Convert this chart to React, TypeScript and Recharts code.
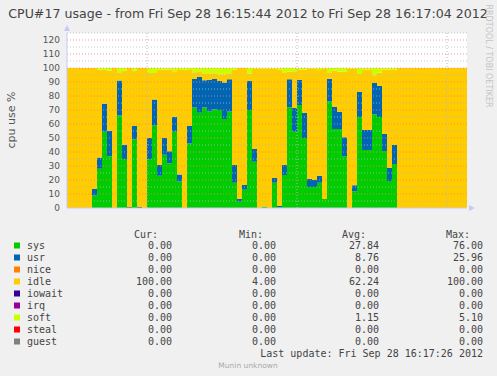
import { ComposedChart, Area, XAxis, YAxis, CartesianGrid, ReferenceLine } from "recharts";

// one sample per second, 16:15:44 .. 16:17:04
const SYS = [
  0, 0, 0, 0, 0, 9, 28, 54.5, 37, 0, 66, 35, 0, 49, 0, 0, 35, 59, 23, 38,
  32, 54.5, 19, 0, 46, 71.7, 68, 72, 69, 70.5, 70, 63.6, 69, 18, 4.5, 13, 70, 33, 0, 1,
  0, 18, 0.7, 23.6, 72, 54.5, 73.6, 50, 15, 15, 18, 6.4, 76, 56.4, 56.4, 37, 0, 12, 65, 41.4,
  41.4, 67, 65, 40.7, 19.3, 31.4, 0, 0, 0, 0, 0, 0, 0, 0, 0, 0, 0, 0, 0, 0, 0,
];
const USR = [
  0, 0, 0, 0, 0, 4.5, 8, 20, 18, 0, 25, 10, 0.8, 9.5, 0.8, 0, 15, 18.5, 7.7, 12,
  8.6, 10.7, 5, 0, 12.6, 20.4, 25.6, 19.3, 22.6, 21.6, 20.7, 26, 23, 12.8, 2, 3.4, 20.7, 9.2, 0, 0,
  0, 3.5, 0.7, 7.1, 20, 17, 17.8, 17.9, 5.7, 5, 5, 0, 16.4, 15.7, 12.2, 13.6, 0, 4.3, 17.9, 14.3,
  14.3, 22.2, 22.1, 12.2, 9.3, 13.6, 0, 0, 0, 0, 0, 0, 0, 0, 0, 0, 0, 0, 0, 0, 0,
];
const IDLE = [
  100, 100, 100, 100, 100, 86.5, 62.8, 24.3, 43, 100, 6, 53, 99.2, 39.5, 99.2, 100, 46.5, 19, 68.1, 48.8,
  58.4, 32.4, 74.5, 99, 39.9, 4.9, 4, 4.9, 4.6, 4.1, 4.8, 5.9, 4.2, 68.2, 93.5, 83.6, 5.3, 57.3, 99.5, 98.5,
  99.5, 78, 97.6, 66.3, 5.5, 26.1, 7.6, 31.1, 78.8, 79.5, 75.6, 93.1, 4.6, 25.9, 28.8, 46.8, 99.5, 83.2, 12.8, 43.3,
  43.3, 5.7, 9.6, 46.1, 70.4, 54, 100, 100, 100, 100, 100, 100, 100, 100, 100, 100, 100, 100, 100, 100, 100,
];
const SOFT = [
  0, 0, 0, 0, 0, 0, 1.2, 1.2, 2, 0, 3, 2, 0, 2, 0, 0, 3.5, 3.5, 1.2, 1.2,
  1, 2.4, 1.5, 1, 1.5, 3, 2.4, 3.8, 3.8, 3.8, 4.5, 4.5, 3.8, 1, 0, 0, 4, 0.5, 0.5, 0.5,
  0.5, 0.5, 1, 3, 2.5, 2.4, 1, 1, 0.5, 0.5, 1.4, 0.5, 3, 2, 2.6, 2.6, 0.5, 0.5, 4.3, 1,
  1, 5.1, 3.3, 1, 1, 1, 0, 0, 0, 0, 0, 0, 0, 0, 0, 0, 0, 0, 0, 0, 0,
];

const Y_TICKS = [0, 10, 20, 30, 40, 50, 60, 70, 80, 90, 100, 110, 120];
const H_GRID = [5, 10, 15, 20, 25, 30, 35, 40, 45, 50, 55, 60, 65, 70, 75, 80, 85, 90, 95, 100, 105, 110, 115, 120, 125];
const V_GRID = [16, 46, 76]; // 16:16:00, 16:16:30, 16:17:00

const NAMES = ["sys", "usr", "nice", "idle", "iowait", "irq", "soft", "steal", "guest"];
const COLORS = ["#00cc00", "#0066b3", "#ff8000", "#ffcc00", "#330099", "#990099", "#ccff00", "#ff0000", "#808080"];
const CUR = ["0.00", "0.00", "0.00", "100.00", "0.00", "0.00", "0.00", "0.00", "0.00"];
const MIN = ["0.00", "0.00", "0.00", "4.00", "0.00", "0.00", "0.00", "0.00", "0.00"];
const AVG = ["27.84", "8.76", "0.00", "62.24", "0.00", "0.00", "1.15", "0.00", "0.00"];
const MAX = ["76.00", "25.96", "0.00", "100.00", "0.00", "0.00", "5.10", "0.00", "0.00"];

const data = SYS.map((v, i) => ({ t: i, sys: v, usr: USR[i], idle: IDLE[i], soft: SOFT[i] }));

const AXIS = "#c8c8f4";
const mono = "'DejaVu Sans Mono', monospace";
const sans = "'DejaVu Sans', sans-serif";

export default function App() {
  return (
    <div style={{ position: "absolute", left: 0, top: 0, width: 497, height: 376, background: "#f0f0f0", overflow: "hidden" }}>
      <ComposedChart
        width={497}
        height={215}
        data={data}
        margin={{ top: 33, right: 30, bottom: 7, left: 0 }}
      >
        <CartesianGrid fill="#ffffff" horizontal={false} vertical={false} stroke="none" />
        <XAxis dataKey="t" type="number" domain={[0, 80]} hide />
        <YAxis
          type="number"
          domain={[0, 125]}
          ticks={Y_TICKS}
          width={67}
          interval={0}
          tickLine={false}
          axisLine={{ stroke: AXIS }}
          tick={{ fill: "#555", fontSize: 9, fontFamily: sans }}
          tickMargin={1}
        />
        <Area type="stepAfter" dataKey="sys" stackId="a" fill="#00cc00" fillOpacity={1} stroke="none" isAnimationActive={false} />
        <Area type="stepAfter" dataKey="usr" stackId="a" fill="#0066b3" fillOpacity={1} stroke="none" isAnimationActive={false} />
        <Area type="stepAfter" dataKey="idle" stackId="a" fill="#ffcc00" fillOpacity={1} stroke="none" isAnimationActive={false} />
        <Area type="stepAfter" dataKey="soft" stackId="a" fill="#ccff00" fillOpacity={1} stroke="none" isAnimationActive={false} />
        {H_GRID.map((v) => (
          <ReferenceLine
            key={"h" + v}
            y={v}
            stroke={v % 10 === 0 ? "#f08080" : "#b8b8b8"}
            strokeOpacity={0.8}
            strokeDasharray="1 2"
          />
        ))}
        {V_GRID.map((v) => (
          <ReferenceLine key={"v" + v} x={v} stroke="#b8b8b8" strokeDasharray="1 2" />
        ))}
        <ReferenceLine y={0} stroke={AXIS} />
      </ComposedChart>

      <svg width={497} height={376} style={{ position: "absolute", left: 0, top: 0, pointerEvents: "none" }}>
        <text x={248} y={13} textAnchor="middle" dominantBaseline="central" fontFamily={sans} fontSize={12.6} fill="#444">
          CPU#17 usage - from Fri Sep 28 16:15:44 2012 to Fri Sep 28 16:17:04 2012
        </text>
        <text
          x={11}
          y={120}
          transform="rotate(-90 11 120)"
          textAnchor="middle"
          dominantBaseline="central"
          fontFamily={sans}
          fontSize={11}
          fill="#555"
        >
          cpu use %
        </text>
        <text
          x={488}
          y={56}
          transform="rotate(90 488 56)"
          textAnchor="middle"
          dominantBaseline="central"
          fontFamily={sans}
          fontSize={8}
          fill="#c4c4c4"
        >
          RRDTOOL / TOBI OETIKER
        </text>
        {/* axis arrows */}
        <polygon points="64,31 70,31 67,25" fill={AXIS} />
        <polygon points="469,205 469,211 475,208" fill={AXIS} />

        {/* legend */}
        <g fontFamily={mono} fontSize={10} fill="#444">
          <text x={158} y={234} textAnchor="end" dominantBaseline="central">Cur:</text>
          <text x={263} y={234} textAnchor="end" dominantBaseline="central">Min:</text>
          <text x={366} y={234} textAnchor="end" dominantBaseline="central">Avg:</text>
          <text x={470} y={234} textAnchor="end" dominantBaseline="central">Max:</text>
          {NAMES.map((n, i) => {
            const y = 245.5 + i * 12;
            return (
              <g key={n}>
                <rect x={14} y={y - 3} width={6} height={6} fill={COLORS[i]} />
                <text x={27} y={y} dominantBaseline="central">{n}</text>
                <text x={172} y={y} textAnchor="end" dominantBaseline="central">{CUR[i]}</text>
                <text x={276} y={y} textAnchor="end" dominantBaseline="central">{MIN[i]}</text>
                <text x={379} y={y} textAnchor="end" dominantBaseline="central">{AVG[i]}</text>
                <text x={483} y={y} textAnchor="end" dominantBaseline="central">{MAX[i]}</text>
              </g>
            );
          })}
          <text x={483} y={353.5} textAnchor="end" dominantBaseline="central" style={{ whiteSpace: "pre" }}>
            Last update: Fri Sep 28 16:17:26 2012
          </text>
        </g>
        <text x={248} y={365.5} textAnchor="middle" dominantBaseline="central" fontFamily={sans} fontSize={7.5} fill="#aaa">
          Munin unknown
        </text>
      </svg>
    </div>
  );
}
